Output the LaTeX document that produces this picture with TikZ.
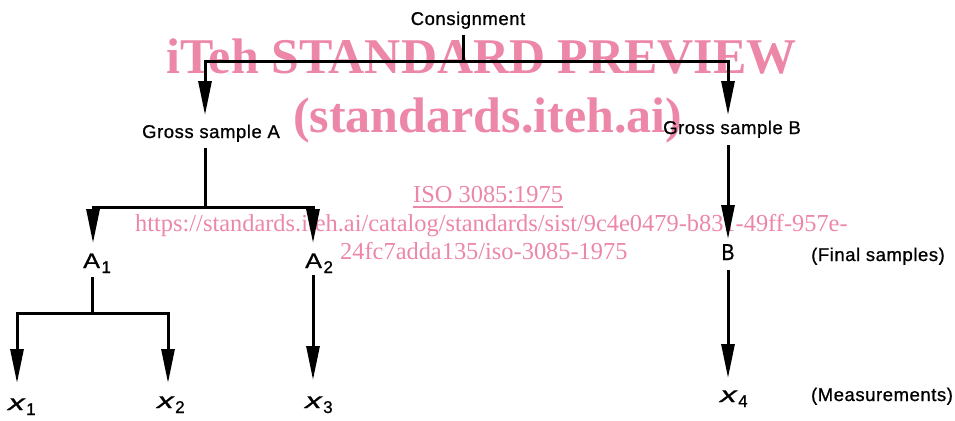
\documentclass[tikz,border=0pt]{standalone}
\usepackage{fontspec}
\setmainfont{Liberation Sans}[LetterSpace=3, FakeBold=0.9]
\newfontfamily\wmfont{Liberation Serif}
\usetikzlibrary{arrows.meta}
\definecolor{wmpink}{RGB}{236,135,168}
% lowered subscript of nearly full size
\newcommand\lowsub[1]{\kern1.5pt\raisebox{-5pt}{\fontsize{17}{18}\selectfont #1}}
% wide italic variable
\newcommand\varx{\scalebox{1.5}[1]{\fontsize{22}{22}\selectfont\itshape x}}
% large sample letters
\newcommand\bigA{\scalebox{1.2}[1]{\fontsize{21}{22}\selectfont A}}
\newcommand\bigB{\scalebox{0.85}[1]{\fontsize{23}{24}\selectfont B}}

\begin{document}
\begin{tikzpicture}[x=1pt,y=-1pt,
  lbl/.style={font=\fontsize{18.5}{20}\selectfont, inner sep=0pt, anchor=base},
  var/.style={font=\fontsize{18.5}{20}\selectfont, inner sep=0pt, anchor=base west},
  wire/.style={line width=3pt},
  arr/.style={wire, -{Triangle[length=34pt,width=13pt]}},
  wmbold/.style={text=wmpink, font=\wmfont\bfseries\fontsize{50}{50}\selectfont, inner sep=0pt, anchor=base west},
  wmthin/.style={text=wmpink, font=\wmfont\fontsize{24.4}{25}\selectfont, inner sep=0pt, anchor=base west},
]
\useasboundingbox (0,0) rectangle (955,420);

% watermark lettering
\node[wmbold] (wm1) at (166,74) {iTeh STANDARD PREVIEW};
\node[wmbold] (wm2) at (293,132) {(standards.iteh.ai)};
\node[wmthin] (wm3) at (413,202) {ISO 3085:1975};
\draw[wmpink, line width=1.2pt] ([yshift=-5pt]wm3.base west) -- ([yshift=-5pt]wm3.base east);
\node[wmthin] (wm4) at (135,231) {https://standards.iteh.ai/catalog/standards/sist/9c4e0479-b831-49ff-957e-};
\node[wmthin] (wm5) at (340,259) {24fc7adda135/iso-3085-1975};

% labels
\node[lbl] (cons) at (468,25) {Consignment};
\node[lbl] (gsa) at (211,138) {Gross sample A};
\node[lbl] (gsb) at (732,134) {Gross sample B};
\node[var] (a1) at (83,268) {\bigA\lowsub{1}};
\node[var] (a2) at (305,268) {\bigA\lowsub{2}};
\node[lbl] (b) at (728,260) {\bigB};
\node[lbl] (fin) at (878,261) {(Final samples)};
\node[var] (x1) at (8,410) {\varx\lowsub{1}};
\node[var] (x2) at (157,408) {\varx\lowsub{2}};
\node[var] (x3) at (305,408) {\varx\lowsub{3}};
\node[var] (x4) at (720,402) {\varx\lowsub{4}};
\node[lbl] (meas) at (882,401) {(Measurements)};

% branch points and arrow tips
\coordinate (k0) at (463,35);
\coordinate (k1) at (463,62);
\coordinate (ta) at (205,115);
\coordinate (tb) at (728,115);
\coordinate (k2) at (205,148);
\coordinate (k3) at (205,207);
\coordinate (t1) at (93,243);
\coordinate (t2) at (313,243);
\coordinate (k4) at (728,145);
\coordinate (t3) at (728,239);
\coordinate (k5) at (92,277);
\coordinate (k6) at (92,313);
\coordinate (t4) at (17,383);
\coordinate (t5) at (168,383);
\coordinate (k7) at (313,275);
\coordinate (t6) at (313,380);
\coordinate (k8) at (728,270);
\coordinate (t7) at (728,378);

% consignment split
\draw[wire] (k0) -- (k1);
\draw[arr] (k1) -| (ta);
\draw[arr] (k1) -| (tb);
% gross sample A split
\draw[wire] (k2) -- (k3);
\draw[arr] (k3) -| (t1);
\draw[arr] (k3) -| (t2);
% gross sample B reduction
\draw[arr] (k4) -- (t3);
% measurements
\draw[wire] (k5) -- (k6);
\draw[arr] (k6) -| (t4);
\draw[arr] (k6) -| (t5);
\draw[arr] (k7) -- (t6);
\draw[arr] (k8) -- (t7);
\end{tikzpicture}
\end{document}
